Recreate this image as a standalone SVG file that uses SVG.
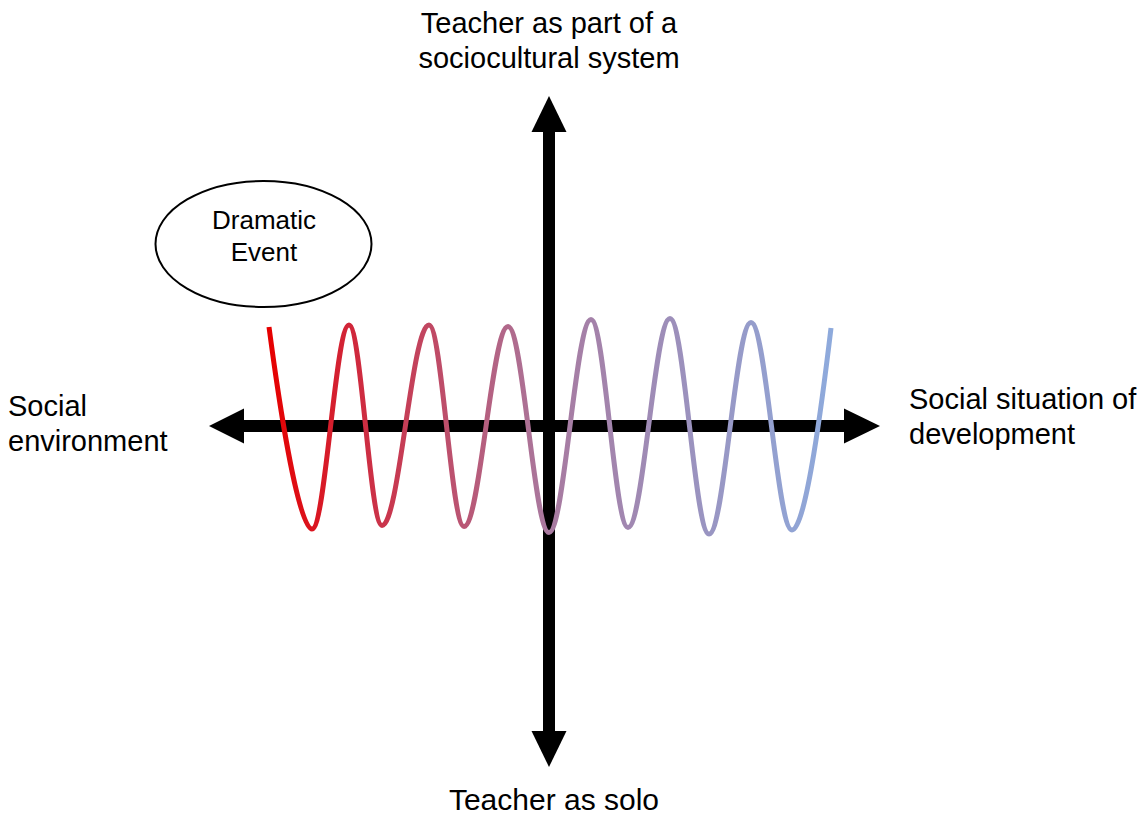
<svg xmlns="http://www.w3.org/2000/svg" width="1144" height="817" viewBox="0 0 1144 817">
  <style>
    .lbl { font-family: "Liberation Sans", Arial, sans-serif; font-size: 29px; fill: #000; }
    .node-text { font-family: "Liberation Sans", Arial, sans-serif; font-size: 26px; fill: #000; }
    .axis { stroke: #000; stroke-width: 12; fill: none; }
    .head { fill: #000; }
  </style>
  <defs>
    <linearGradient id="waveGrad" gradientUnits="userSpaceOnUse" x1="269" y1="0" x2="831" y2="0">
      <stop offset="0" stop-color="#e60000"/>
      <stop offset="0.15" stop-color="#d0283c"/>
      <stop offset="0.5" stop-color="#a87aa0"/>
      <stop offset="1" stop-color="#8eaadc"/>
    </linearGradient>
  </defs>
  <rect width="1144" height="817" fill="#fff"/>

  <g id="connectors">
    <line class="axis" x1="244" y1="426" x2="844" y2="426"/>
    <polygon class="head" points="209,426 244,408.5 244,443.5"/>
    <polygon class="head" points="880,426 844,408.5 844,443.5"/>
    <line class="axis" x1="549" y1="132" x2="549" y2="731"/>
    <polygon class="head" points="549,96 531.5,132 566.5,132"/>
    <polygon class="head" points="549,767 531.5,731 566.5,731"/>
  </g>

  <g id="wave">
    <path fill="none" stroke="url(#waveGrad)" stroke-width="5" stroke-linejoin="round"
      d="M269,327 C278,395 298,529 312,529
         C325.5,529 335.5,325 349,325
         C361,325 370,525.5 382,525.5
         C399.1,525.5 411.9,325 429,325
         C441.7,325 451.3,526.5 464,526.5
         C480,526.5 492,326.5 508,326.5
         C522.9,326.5 534.1,532.5 549,532.5
         C564.3,532.5 575.7,319.5 591,319.5
         C604.5,319.5 614.5,527.5 628,527.5
         C643.3,527.5 654.7,318.5 670,318.5
         C684.2,318.5 694.8,534 709,534
         C724.3,534 735.7,322.5 751,322.5
         C765.9,322.5 777.1,530 792,530
         C806,530 823,395 831,328"/>
  </g>

  <g id="dramatic-event">
    <ellipse cx="263.5" cy="244" rx="108" ry="63" fill="#fff" stroke="#000" stroke-width="2"/>
    <text class="node-text" text-anchor="middle" x="264" y="229">Dramatic</text>
    <text class="node-text" text-anchor="middle" x="264" y="261">Event</text>
  </g>

  <g id="label-top">
    <text class="lbl" text-anchor="middle" x="549" y="33">Teacher as part of a</text>
    <text class="lbl" text-anchor="middle" x="549" y="68">sociocultural system</text>
  </g>
  <g id="label-bottom">
    <text class="lbl" text-anchor="middle" x="554" y="810" style="font-size:30px">Teacher as solo</text>
  </g>
  <g id="label-left">
    <text class="lbl" x="8" y="416">Social</text>
    <text class="lbl" x="8" y="451">environment</text>
  </g>
  <g id="label-right">
    <text class="lbl" x="909" y="409">Social situation of</text>
    <text class="lbl" x="909" y="444">development</text>
  </g>
</svg>
